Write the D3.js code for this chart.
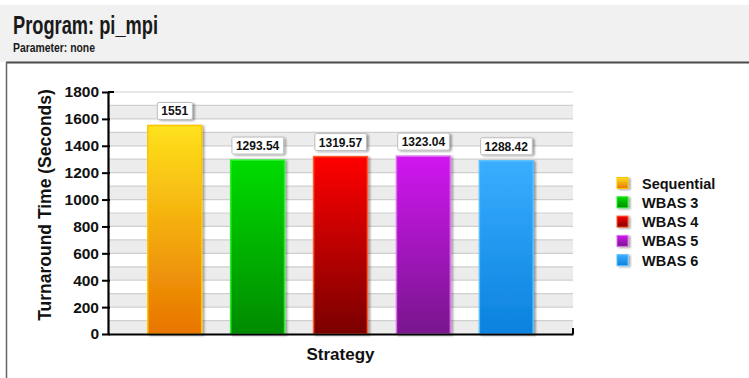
<!DOCTYPE html>
<html><head><meta charset="utf-8">
<script src="https://cdn.jsdelivr.net/npm/d3@7"></script>
<style>body{margin:0;background:#fff}svg{display:block}text{font-family:"Liberation Sans",Arial,sans-serif}</style>
</head><body><svg id="c" width="749" height="378"></svg>
<script>
const categories = ["Sequential","WBAS 3","WBAS 4","WBAS 5","WBAS 6"];
const values = [1551, 1293.54, 1319.57, 1323.04, 1288.42];
const valueLabels = ["1551","1293.54","1319.57","1323.04","1288.42"];
const yTicks = [0,200,400,600,800,1000,1200,1400,1600,1800];
const topColors = ["#ffe21c","#00dc00","#ff0000","#d012f0","#3aaeff"];
const bottomColors = ["#e87400","#008a00","#7a0000","#78148c","#0a82de"];
const borderColors = ["#ffc400","#2cf02c","#ff5a2a","#e070f0","#5cc0ff"];

const svg = d3.select("#c");
const defs = svg.append("defs");
categories.forEach((c,i)=>{
  const g = defs.append("linearGradient").attr("id","g"+i).attr("x1",0).attr("y1",0).attr("x2",0).attr("y2",1);
  g.append("stop").attr("offset","0%").attr("stop-color",topColors[i]);
  g.append("stop").attr("offset","100%").attr("stop-color",bottomColors[i]);
});
const f = defs.append("filter").attr("id","sh").attr("x","-20%").attr("y","-20%").attr("width","150%").attr("height","150%");
f.append("feDropShadow").attr("dx",2).attr("dy",1).attr("stdDeviation",1.2).attr("flood-color","#000").attr("flood-opacity",0.35);

// header
svg.append("rect").attr("x",0).attr("y",5).attr("width",749).attr("height",57).attr("fill","#f1f1f1");
svg.append("line").attr("x1",6).attr("x2",749).attr("y1",62.5).attr("y2",62.5).attr("stroke","#4a4a4a").attr("stroke-width",2);
svg.append("line").attr("x1",6.5).attr("x2",6.5).attr("y1",62).attr("y2",378).attr("stroke","#666").attr("stroke-width",1.5);
svg.append("text").attr("x",13).attr("y",34).attr("font-size",26).attr("font-weight","bold").attr("fill","#1a1a1a")
  .attr("textLength",145).attr("lengthAdjust","spacingAndGlyphs").text("Program: pi_mpi");
svg.append("text").attr("x",13).attr("y",52).attr("font-size",12).attr("font-weight","bold").attr("fill","#1a1a1a")
  .attr("textLength",82).attr("lengthAdjust","spacingAndGlyphs").text("Parameter: none");

const x0 = 108, x1 = 573, yBot = 334, yTop = 92;
const x = d3.scaleBand().domain(categories).range([x0,x1]).paddingInner(0.35).paddingOuter(0.48);
const y = d3.scaleLinear().domain([0,1800]).range([yBot,yTop]);

// grid bands
const bands = d3.range(0,1800,100);
svg.append("g").selectAll("rect").data(bands.filter(b=>b%200===0)).join("rect")
  .attr("x",x0).attr("width",x1-x0).attr("y",d=>y(d+100)).attr("height",d=>y(d)-y(d+100)).attr("fill","#ececec");
svg.append("g").selectAll("line").data(d3.range(100,1801,100)).join("line")
  .attr("x1",x0).attr("x2",x1).attr("y1",d=>y(d)).attr("y2",d=>y(d)).attr("stroke","#cfcfcf").attr("stroke-width",1.2);

// bars
svg.append("g").selectAll("rect").data(values).join("rect")
  .attr("x",(d,i)=>x(categories[i])).attr("width",x.bandwidth())
  .attr("y",d=>y(d)).attr("height",d=>yBot-y(d))
  .attr("fill",(d,i)=>`url(#g${i})`).attr("stroke",(d,i)=>borderColors[i]).attr("stroke-width",1.5)
  .attr("filter","url(#sh)");

// value labels
const lg = svg.append("g");
values.forEach((v,i)=>{
  const cx = x(categories[i]) + x.bandwidth()/2;
  const t = lg.append("text").attr("x",cx).attr("y",y(v)-10).attr("text-anchor","middle")
    .attr("font-size",12).attr("font-weight","bold").attr("fill","#111").text(valueLabels[i]);
  const bb = t.node().getBBox();
  lg.insert("rect","text").attr("x",bb.x-4).attr("y",y(v)-23).attr("width",bb.width+8).attr("height",17)
    .attr("fill","#fff").attr("stroke","#bdbdbd").attr("stroke-width",1).attr("rx",1.5).attr("filter","url(#sh)");
});

// axes
const yAxis = svg.append("g").attr("transform",`translate(${x0},0)`)
  .call(d3.axisLeft(y).tickValues(yTicks).tickFormat(d3.format("d")).tickSize(6).tickSizeOuter(0).tickPadding(3));
yAxis.select(".domain").attr("stroke","#000").attr("stroke-width",2.2);
yAxis.selectAll(".tick line").attr("stroke","#000").attr("stroke-width",2).attr("x2",-6).attr("x1",2);
yAxis.selectAll(".tick text").attr("font-size",15.5).attr("font-weight","bold").attr("fill","#111").attr("font-family","Liberation Sans, Arial, sans-serif");
svg.append("line").attr("x1",x0).attr("x2",x0+6).attr("y1",yTop).attr("y2",yTop).attr("stroke","#000").attr("stroke-width",2);

const xAxis = svg.append("g").attr("transform",`translate(0,${yBot})`)
  .call(d3.axisBottom(x).tickSize(0).tickSizeOuter(0).tickFormat(""));
xAxis.select(".domain").attr("stroke","#000").attr("stroke-width",2.2);
svg.append("line").attr("x1",x1).attr("x2",x1).attr("y1",yBot).attr("y2",yBot-6).attr("stroke","#000").attr("stroke-width",2);

svg.append("text").attr("transform",`translate(51,${(yTop+yBot)/2 - 8}) rotate(-90)`).attr("text-anchor","middle")
  .attr("font-size",17.5).attr("font-weight","bold").attr("fill","#111").text("Turnaround Time (Seconds)");
svg.append("text").attr("x",(x0+x1)/2).attr("y",360).attr("text-anchor","middle")
  .attr("font-size",17).attr("font-weight","bold").attr("fill","#111").text("Strategy");

// legend
const leg = svg.append("g");
categories.forEach((c,i)=>{
  const ly = 183 + i*19.3;
  leg.append("rect").attr("x",617).attr("y",ly-5.5).attr("width",11).attr("height",11)
    .attr("fill",`url(#g${i})`).attr("stroke",borderColors[i]).attr("stroke-width",1).attr("filter","url(#sh)");
  leg.append("text").attr("x",642).attr("y",ly+5.5).attr("font-size",14.5).attr("font-weight","bold").attr("fill","#111").text(c);
});
</script></body></html>
